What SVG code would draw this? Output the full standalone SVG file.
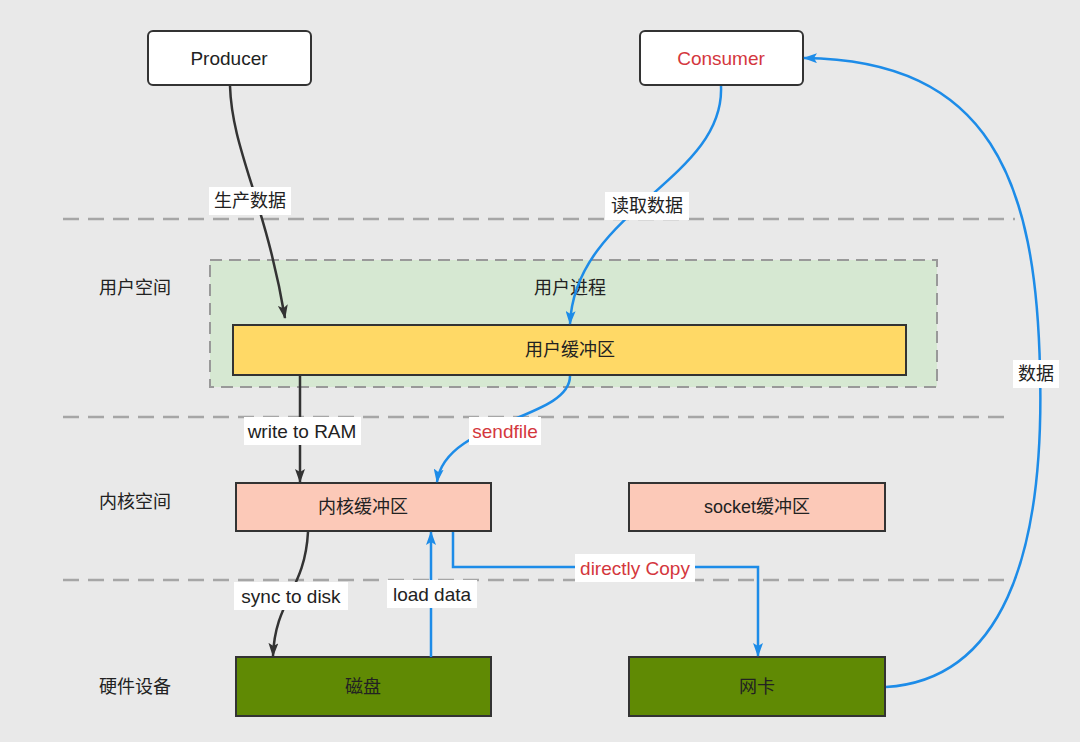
<svg xmlns="http://www.w3.org/2000/svg" width="1080" height="742" viewBox="0 0 1080 742">
<defs>
<style>
text{font-family:"Liberation Sans","Noto Sans CJK SC",sans-serif;font-size:18px;fill:#222;text-anchor:middle;dominant-baseline:central}
.en{font-size:19px}
.red{fill:#d4373d}
.sep{stroke:#a6a6a6;stroke-width:2.5;stroke-dasharray:16 9;fill:none}
.box{stroke:#333;stroke-width:2}
.blk{stroke:#333;stroke-width:2.5;fill:none}
.blu{stroke:#1d8ce8;stroke-width:2.5;fill:none}
.lbl{fill:#fff}
</style>
<marker id="ab" viewBox="0 0 14 10" refX="13" refY="5" markerWidth="14" markerHeight="10" markerUnits="userSpaceOnUse" orient="auto"><path d="M0,0 L14,5 L0,10 L3,5 Z" fill="#333"/></marker>
<marker id="au" viewBox="0 0 14 10" refX="13" refY="5" markerWidth="14" markerHeight="10" markerUnits="userSpaceOnUse" orient="auto"><path d="M0,0 L14,5 L0,10 L3,5 Z" fill="#1d8ce8"/></marker>
</defs>
<rect width="1080" height="742" fill="#e9e9e9"/>
<g id="separators">
<line class="sep" x1="63" y1="219" x2="1015" y2="219"/>
<line class="sep" x1="63" y1="417" x2="1012" y2="417"/>
<line class="sep" x1="63" y1="580" x2="1008" y2="580"/>
</g>
<g id="layer-labels">
<text x="135" y="288">用户空间</text>
<text x="135" y="502">内核空间</text>
<text x="135" y="687">硬件设备</text>
</g>
<g id="user-process">
<rect x="210" y="260" width="727" height="127" fill="#d6e8d2" stroke="#999" stroke-width="2" stroke-dasharray="12 7"/>
<text x="570" y="288">用户进程</text>
</g>
<g id="producer"><rect class="box" x="148" y="31" width="163" height="54" rx="5" fill="#fff"/><text class="en" x="229" y="58">Producer</text></g>
<g id="consumer"><rect class="box" x="640" y="31" width="163" height="54" rx="5" fill="#fff"/><text class="en red" x="721" y="58">Consumer</text></g>
<g id="user-buffer"><rect class="box" x="233" y="325" width="673" height="50" fill="#ffd966"/><text x="570" y="350">用户缓冲区</text></g>
<g id="kernel-buffer"><rect class="box" x="236" y="483" width="255" height="48" fill="#fcc9b8"/><text x="363" y="507">内核缓冲区</text></g>
<g id="socket-buffer"><rect class="box" x="629" y="483" width="256" height="48" fill="#fcc9b8"/><text x="757" y="507">socket缓冲区</text></g>
<g id="disk"><rect class="box" x="236" y="657" width="255" height="59" fill="#608a04"/><text x="363" y="687" fill="#333">磁盘</text></g>
<g id="nic"><rect class="box" x="629" y="657" width="256" height="59" fill="#608a04"/><text x="757" y="687" fill="#333">网卡</text></g>
<g id="connectors">
<path class="blk" d="M230,86 C232,150 265,200 285,318" marker-end="url(#ab)"/>
<path class="blu" d="M721,86 C725,180 575,210 570,324" marker-end="url(#au)"/>
<path class="blk" d="M300,376 L300,482" marker-end="url(#ab)"/>
<path class="blu" d="M570,376 C570,420 445,420 437,482" marker-end="url(#au)"/>
<path class="blk" d="M308,532 C305,590 275,600 273,656" marker-end="url(#ab)"/>
<path class="blu" d="M431,657 L431,532" marker-end="url(#au)"/>
<path class="blu" d="M453,532 L453,567 L758,567 L758,656" marker-end="url(#au)"/>
<path class="blu" d="M886,687 C1000,680 1045,560 1040,370 C1036,180 990,60 804,58" marker-end="url(#au)"/>
<rect class="lbl" x="209" y="187" width="82" height="28"/><text x="250" y="201">生产数据</text>
<rect class="lbl" x="605" y="192" width="84" height="28"/><text x="647" y="206">读取数据</text>
<rect class="lbl" x="244" y="417" width="117" height="28"/><text class="en" x="302" y="431">write to RAM</text>
<rect class="lbl" x="469" y="417" width="72" height="28"/><text class="en red" x="505" y="431">sendfile</text>
<rect class="lbl" x="234" y="582" width="114" height="28"/><text class="en" x="291" y="596">sync to disk</text>
<rect class="lbl" x="387" y="580" width="90" height="28"/><text class="en" x="432" y="594">load data</text>
<rect class="lbl" x="575" y="554" width="120" height="28"/><text class="en red" x="635" y="568">directly Copy</text>
<rect class="lbl" x="1013" y="360" width="46" height="28"/><text x="1036" y="374">数据</text>
</g>
</svg>
